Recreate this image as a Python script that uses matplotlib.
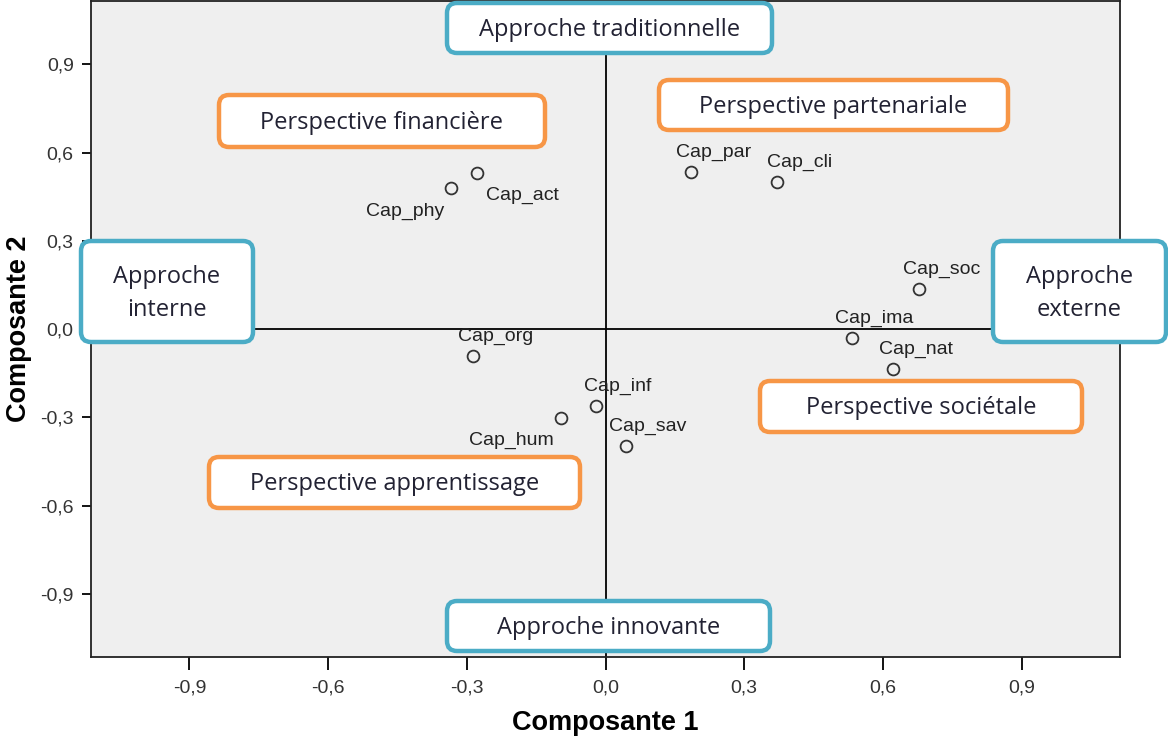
import matplotlib
matplotlib.use("Agg")
import matplotlib.pyplot as plt
from matplotlib.patches import FancyBboxPatch
from matplotlib.transforms import IdentityTransform
from matplotlib.ticker import FuncFormatter

# ---- data ----
labels = ["Cap_phy", "Cap_act", "Cap_par", "Cap_cli", "Cap_soc", "Cap_ima",
          "Cap_nat", "Cap_org", "Cap_inf", "Cap_hum", "Cap_sav"]
comp1 = [-0.334, -0.279, 0.185, 0.371, 0.678, 0.534, 0.623, -0.286, -0.021, -0.096, 0.044]
comp2 = [0.479, 0.530, 0.535, 0.501, 0.137, -0.029, -0.136, -0.090, -0.261, -0.303, -0.396]
ticks = [-0.9, -0.6, -0.3, 0.0, 0.3, 0.6, 0.9]

# label offsets (points) relative to markers
label_offsets = {
    "Cap_phy": (-33, -17), "Cap_act": (33, -16), "Cap_hum": (-36, -16),
}
default_offset = (16, 14)

# annotation boxes: text, extents (px from top-left), colour
box_texts = ["Approche traditionnelle", "Perspective financière", "Perspective partenariale",
             "Approche\ninterne", "Approche\nexterne", "Perspective sociétale",
             "Perspective apprentissage", "Approche innovante"]
box_colors = ["#4BACC6", "#F79646", "#F79646", "#4BACC6", "#4BACC6", "#F79646",
              "#F79646", "#4BACC6"]
box_geom = [(447, 3, 772, 53), (219, 95, 545, 147), (659, 80, 1008, 130),
            (81, 241, 253, 342), (993, 241, 1166, 342), (760, 381, 1082, 432),
            (209, 457, 580, 508), (447, 601, 770, 651)]

W, H = 1168, 742
fig = plt.figure(figsize=(W / 100, H / 100), dpi=100)
ax = fig.add_axes([91 / W, 1 - 657 / H, (1120 - 91) / W, (657 - 1) / H])
ax.set_facecolor("#EFEFEF")
ax.set_xlim(-1.113, 1.113)
ax.set_ylim(-1.114, 1.115)

ax.axhline(0, color="black", lw=1.3, zorder=1)
ax.axvline(0, color="black", lw=1.3, zorder=1)

ax.plot(comp1, comp2, linestyle="none", marker="o", markersize=8.5,
        markerfacecolor="none", markeredgecolor="#333333", markeredgewidth=1.3, zorder=3)

tick_font = "Liberation Sans"
for lab, x, y in zip(labels, comp1, comp2):
    dx, dy = label_offsets.get(lab, default_offset)
    ax.annotate(lab, (x, y), xytext=(dx, dy), textcoords="offset points",
                ha="center", va="center", fontsize=14, family=tick_font,
                color="#222222", zorder=4)

ax.set_xticks(ticks)
ax.set_yticks(ticks)
fmt = FuncFormatter(lambda v, p: f"{v:.1f}".replace(".", ",").replace("-0,0", "0,0"))
ax.xaxis.set_major_formatter(fmt)
ax.yaxis.set_major_formatter(fmt)
ax.tick_params(axis="x", direction="out", length=9, width=1.3, pad=7,
               labelsize=14, labelcolor="#333333")
ax.tick_params(axis="y", direction="out", length=6.5, width=1.3, pad=6,
               labelsize=14, labelcolor="#333333")
for lbl in ax.get_xticklabels() + ax.get_yticklabels():
    lbl.set_family(tick_font)
for s in ax.spines.values():
    s.set_linewidth(1.3)
    s.set_color("#222222")

ax.set_xlabel("Composante 1", fontsize=19.5, fontweight="bold", family=tick_font, labelpad=10)
ax.set_ylabel("Composante 2", fontsize=19.5, fontweight="bold", family=tick_font, labelpad=6)

# annotation boxes in pixel coordinates
for txt, col, (x0, y0, x1, y1) in zip(box_texts, box_colors, box_geom):
    patch = FancyBboxPatch((x0, H - y1), x1 - x0, y1 - y0,
                           boxstyle="round,pad=0,rounding_size=10",
                           transform=IdentityTransform(), facecolor="white",
                           edgecolor=col, linewidth=3.2, clip_on=False, zorder=5)
    fig.patches.append(patch)
    fig.text((x0 + x1) / 2 / W, 1 - ((y0 + y1) / 2 + 2) / H, txt, ha="center", va="center",
             fontsize=17, family="Open Sans", color="#222233", linespacing=1.55, zorder=6)

fig.savefig("out.png", dpi=100)
